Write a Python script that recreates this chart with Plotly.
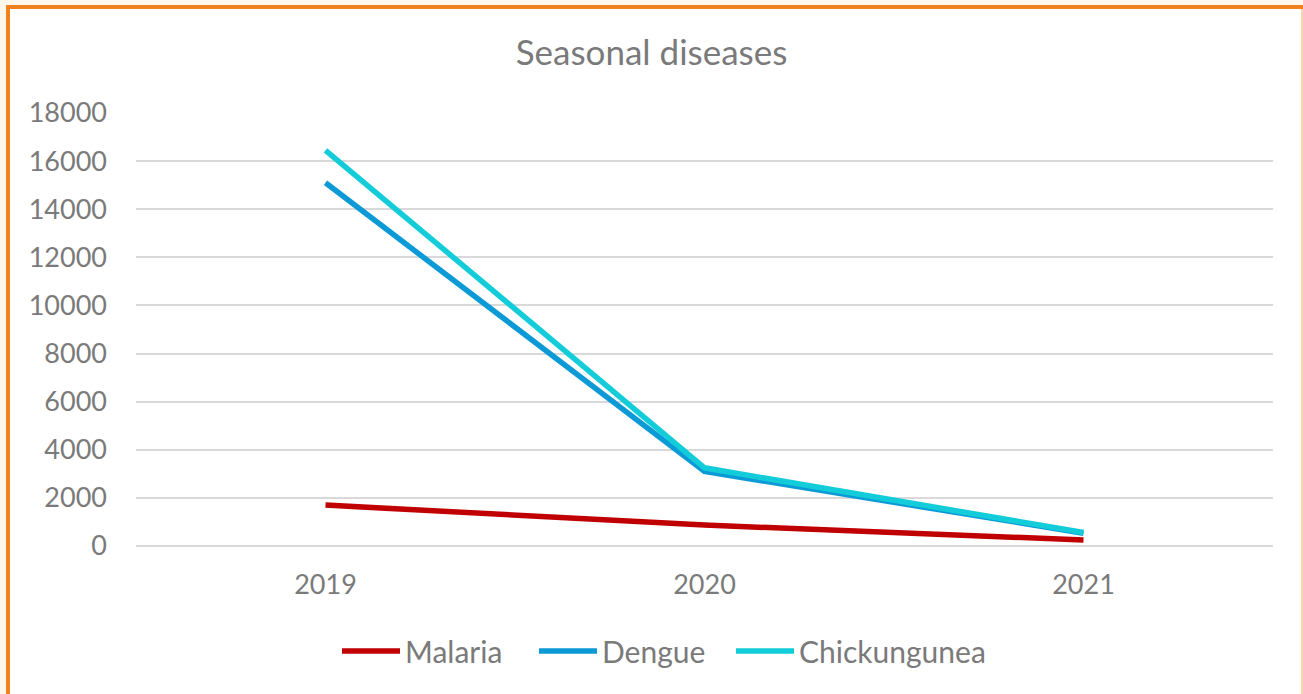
import plotly.graph_objects as go

years = ["2019", "2020", "2021"]
malaria = [1700, 870, 250]
dengue = [15100, 3100, 530]
chikungunea = [16450, 3250, 560]

W, H = 1303, 694
L, R, T, B = 136, 1273, 113, 546

def px(x):
    return (x - L) / (R - L)

def py(y):
    return (B - y) / (B - T)

series = [("Malaria", malaria, "#c00000", "legend", 343),
          ("Dengue", dengue, "#0b9ad6", "legend2", 540),
          ("Chickungunea", chikungunea, "#12cdd9", "legend3", 737)]

fig = go.Figure()
for name, vals, col, leg, _ in series:
    fig.add_trace(go.Scatter(x=years, y=vals, name=name, mode="lines", legend=leg,
                             line=dict(color=col, width=5.5)))

font_col = "#7a7a7a"
legends = {}
for name, vals, col, leg, lx in series:
    legends[leg] = dict(orientation="h", x=px(lx - 6), xanchor="left", y=py(651), yanchor="middle",
                        font=dict(size=30, color=font_col), itemwidth=58, bgcolor="rgba(0,0,0,0)")

fig.update_layout(
    width=W, height=H,
    margin=dict(l=L, r=W - R, t=T, b=H - B),
    paper_bgcolor="#fdf6ea",
    plot_bgcolor="rgba(0,0,0,0)",
    font=dict(family="Lato, Carlito, sans-serif", color=font_col, size=27),
    title=dict(text="Seasonal diseases", x=0.5, xanchor="center", y=1 - 53 / H, yanchor="middle",
               font=dict(size=35, color=font_col)),
    xaxis=dict(type="category", range=[-0.5, 2.5], showgrid=False, showline=False,
               zeroline=False, ticks="", ticklabelstandoff=20, tickfont=dict(size=27)),
    yaxis=dict(range=[0, 18000], dtick=2000, tickformat="d", showgrid=True, gridcolor="#d9d9d9",
               gridwidth=1.5, zeroline=True, zerolinecolor="#d9d9d9", zerolinewidth=1.5,
               showline=False, ticks="", ticklabelstandoff=28, tickfont=dict(size=27)),
    showlegend=True,
    shapes=[
        dict(type="rect", xref="paper", yref="paper", x0=px(8), x1=px(1302), y0=py(7), y1=py(700),
             fillcolor="white", line=dict(width=0), layer="below"),
        dict(type="line", xref="paper", yref="paper", x0=px(8), x1=px(8), y0=py(5), y1=py(700),
             line=dict(color="#f0821e", width=4)),
        dict(type="line", xref="paper", yref="paper", x0=px(6), x1=px(1303), y0=py(7), y1=py(7),
             line=dict(color="#f0821e", width=4)),
        dict(type="line", xref="paper", yref="paper", x0=px(1302), x1=px(1302), y0=py(9), y1=py(700),
             line=dict(color="#f9d4b0", width=2)),
    ],
    **legends,
)
fig.write_html("out.html", config={"displayModeBar": False},
               post_script="document.body.style.margin='0';document.body.style.overflow='hidden';")
